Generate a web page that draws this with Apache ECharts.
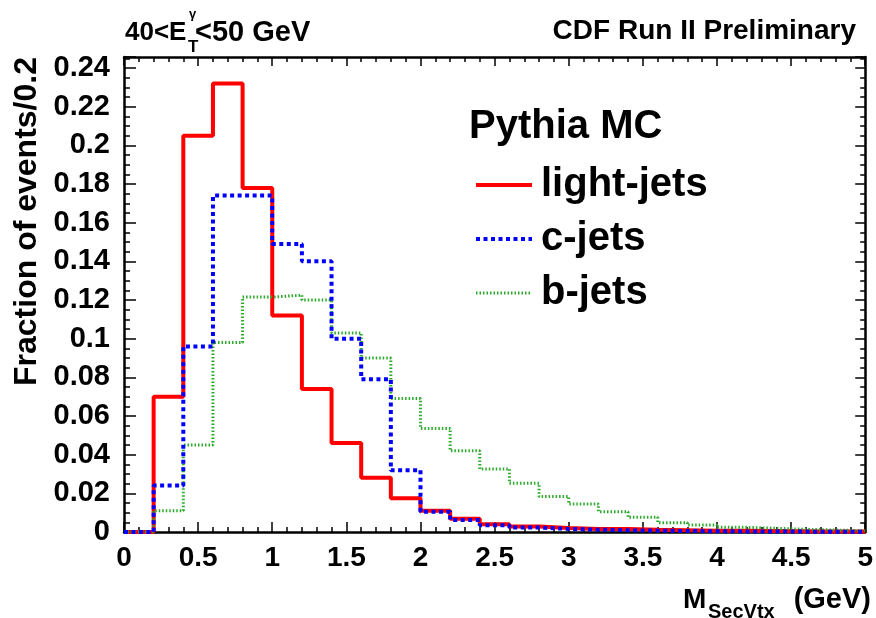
<!DOCTYPE html>
<html>
<head>
<meta charset="utf-8">
<script src="https://cdn.jsdelivr.net/npm/echarts@6/dist/echarts.min.js"></script>
<style>
html,body{margin:0;padding:0;background:#fff;}
#c{width:876px;height:618px;}
</style>
</head>
<body>
<div id="c"></div>
<script>
// Bin lower edges (GeV), bin width 0.2
var binEdges = [0,0.2,0.4,0.6,0.8,1.0,1.2,1.4,1.6,1.8,2.0,2.2,2.4,2.6,2.8,3.0,3.2,3.4,3.6,3.8,4.0,4.2,4.4,4.6,4.8];
var xMaxEdge = 5;
var lightJets = [0,0.070,0.205,0.232,0.178,0.112,0.074,0.046,0.028,0.0174,0.011,0.0069,0.0040,0.0028,0.0021,0.0016,0.0015,0.0011,0.0009,0.0007,0.0006,0.0005,0.0004,0.0003,0.0002];
var cJets = [0,0.024,0.096,0.174,0.174,0.149,0.140,0.100,0.079,0.032,0.0105,0.0062,0.0035,0.0023,0.0016,0.0012,0.0009,0.0007,0.0005,0.0004,0.0003,0.0002,0.0002,0.0001,0.0001];
var bJets = [0,0.011,0.045,0.098,0.1215,0.1225,0.120,0.103,0.090,0.069,0.0536,0.042,0.0326,0.0252,0.0183,0.0145,0.0105,0.0076,0.0048,0.0036,0.0024,0.0019,0.0014,0.0010,0.0007];
var xTicks = [0,0.5,1,1.5,2,2.5,3,3.5,4,4.5,5];
var yTicks = [0,0.02,0.04,0.06,0.08,0.1,0.12,0.14,0.16,0.18,0.2,0.22,0.24];
var seriesNames = ['light-jets','c-jets','b-jets'];

function stepData(vals){
  var d = binEdges.map(function(e,i){return [e, vals[i]];});
  d.push([xMaxEdge, vals[vals.length-1]]);
  return d;
}
function isTick(v, list){
  for (var i=0;i<list.length;i++){ if (Math.abs(list[i]-v)<1e-9) return true; }
  return false;
}
var FONT = '"Liberation Sans", Arial, Helvetica, sans-serif';
var chart = echarts.init(document.getElementById('c'), null, {renderer:'canvas'});
var axisLineStyle = {color:'#000', width:2.5};
function txt(x,y,t,size,align,extra){
  var o = {type:'text', x:x, y:y, style:{text:t, fontFamily:FONT, fontWeight:'bold', fontSize:size, fill:'#000', align:align||'left', verticalAlign:'middle'}};
  if (extra) for (var k in extra) o[k]=extra[k];
  return o;
}
var option = {
  backgroundColor:'#fff',
  animation:false,
  grid:{left:124, right:10, top:57, bottom:86},
  xAxis:[{
    type:'value', min:0, max:5, interval:0.5,
    axisLine:{show:true, onZero:false, lineStyle:axisLineStyle},
    axisTick:{show:true, inside:true, length:10, lineStyle:{color:'#000', width:1.5}},
    minorTick:{show:true, splitNumber:5, length:5, lineStyle:{color:'#000', width:1.5}},
    splitLine:{show:false},
    axisLabel:{show:true, margin:12, fontFamily:FONT, fontWeight:'bold', fontSize:28, color:'#000',
      formatter:function(v){ return isTick(v,xTicks) ? String(v) : ''; }}
  },{
    type:'value', min:0, max:5, interval:0.5, position:'top',
    axisLine:{show:true, onZero:false, lineStyle:axisLineStyle},
    axisTick:{show:true, inside:true, length:9, lineStyle:{color:'#000', width:1.5}},
    minorTick:{show:true, splitNumber:5, length:5, lineStyle:{color:'#000', width:1.5}},
    splitLine:{show:false}, axisLabel:{show:false}
  }],
  yAxis:[{
    type:'value', min:0, max:0.2457, interval:0.02,
    axisLine:{show:true, onZero:false, lineStyle:axisLineStyle},
    axisTick:{show:true, inside:true, length:12, lineStyle:{color:'#000', width:1.5}},
    minorTick:{show:true, splitNumber:4, length:6, lineStyle:{color:'#000', width:1.5}},
    splitLine:{show:false},
    axisLabel:{show:true, margin:14, fontFamily:FONT, fontWeight:'bold', fontSize:29, color:'#000',
      formatter:function(v){ return isTick(v,yTicks) ? String(+v.toFixed(2)) : ''; }}
  },{
    type:'value', min:0, max:0.2457, interval:0.02, position:'right',
    axisLine:{show:true, onZero:false, lineStyle:axisLineStyle},
    axisTick:{show:true, inside:true, length:10, lineStyle:{color:'#000', width:1.5}},
    minorTick:{show:true, splitNumber:4, length:5, lineStyle:{color:'#000', width:1.5}},
    splitLine:{show:false}, axisLabel:{show:false}
  }],
  legend:{
    orient:'vertical', left:469, top:160, itemGap:14,
    itemWidth:56, itemHeight:14,
    data:[
      {name:seriesNames[0], lineStyle:{width:4}},
      {name:seriesNames[1], lineStyle:{width:4}},
      {name:seriesNames[2], lineStyle:{width:3}}
    ],
    itemStyle:{opacity:0},
    textStyle:{fontFamily:FONT, fontWeight:'bold', fontSize:40, color:'#000', lineHeight:40, padding:[0,0,0,4]}
  },
  series:[
    {name:seriesNames[0], type:'line', step:'end', symbol:'none', showSymbol:false, data:stepData(lightJets),
     lineStyle:{color:'#ff0000', width:4}, itemStyle:{color:'#ff0000'}, z:2},
    {name:seriesNames[1], type:'line', step:'end', symbol:'none', showSymbol:false, data:stepData(cJets),
     lineStyle:{color:'#0000ff', width:4, type:[4,3.5], cap:'butt'}, itemStyle:{color:'#0000ff'}, z:4},
    {name:seriesNames[2], type:'line', step:'end', symbol:'none', showSymbol:false, data:stepData(bJets),
     lineStyle:{color:'#2aaa2a', width:3, type:[1.5,2], cap:'butt'}, itemStyle:{color:'#2aaa2a'}, z:3}
  ],
  graphic:[
    txt(469,127,'Pythia MC',40),
    txt(27,57,'Fraction of events/0.2',32,'right',{rotation:Math.PI/2}),
    txt(683,600,'M',28),
    txt(708,612,'SecVtx',20),
    txt(871,600,'(GeV)',29,'right'),
    txt(125,33,'40<E',26),
    txt(189,14,'γ',13),
    txt(188,47,'T',17),
    txt(195,33,'<50 GeV',29),
    txt(856,31,'CDF Run II Preliminary',28,'right')
  ]
};
chart.setOption(option);
</script>
</body>
</html>
